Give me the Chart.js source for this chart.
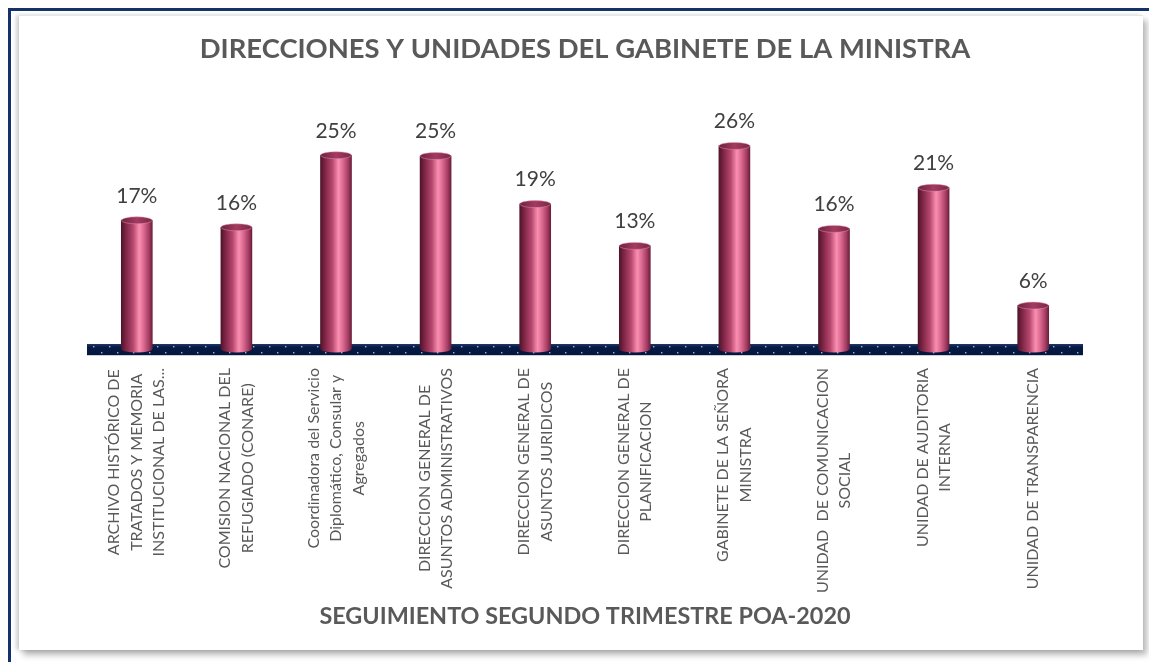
<!DOCTYPE html>
<html>
<head>
<meta charset="utf-8">
<script src="https://cdn.jsdelivr.net/npm/chart.js@4.4.1/dist/chart.umd.min.js"></script>
<style>
html,body{margin:0;padding:0;background:#fff;width:1149px;height:662px;overflow:hidden;}
#frame{position:absolute;left:8px;top:8px;width:1200px;height:700px;border-top:3px solid #14316a;border-left:3px solid #14316a;box-sizing:border-box;}
#panel{position:absolute;left:19px;top:15px;width:1124px;height:634px;background:#fff;border-top:1px solid #e6e6e6;
  box-shadow:4px 5px 6px rgba(0,0,0,0.28), -3px 0 4px rgba(0,0,0,0.18);}
#wrap{position:absolute;left:0;top:0;width:1149px;height:662px;}
</style>
</head>
<body>
<div id="frame"></div>
<div id="panel"></div>
<div id="wrap"><canvas id="c"></canvas></div>
<script>
const categories = [
  ["ARCHIVO HISTÓRICO DE", "TRATADOS Y MEMORIA", "INSTITUCIONAL DE LAS..."],
  ["COMISION NACIONAL DEL", "REFUGIADO (CONARE)"],
  ["Coordinadora del Servicio", "Diplomático, Consular y", "Agregados"],
  ["DIRECCION GENERAL DE", "ASUNTOS ADMINISTRATIVOS"],
  ["DIRECCION GENERAL DE", "ASUNTOS JURIDICOS"],
  ["DIRECCION GENERAL DE", "PLANIFICACION"],
  ["GABINETE DE LA SEÑORA", "MINISTRA"],
  ["UNIDAD  DE COMUNICACION", "SOCIAL"],
  ["UNIDAD DE AUDITORIA", "INTERNA"],
  ["UNIDAD DE TRANSPARENCIA"]
];
const values = [16.6, 15.7, 25.0, 24.9, 18.7, 13.3, 26.2, 15.5, 20.8, 5.6];
const titleText = "DIRECCIONES Y UNIDADES DEL GABINETE DE LA MINISTRA";
const subtitleText = "SEGUIMIENTO SEGUNDO TRIMESTRE POA-2020";

const FONT = "Lato, 'Open Sans', sans-serif";
const BAR_W = 31;
const LINE_H = 22.5;

function barGradient(c) {
  const chart = c.chart;
  const xs = chart.scales && chart.scales.x;
  if (!xs || !chart.chartArea) return '#b23d63';
  const cx = xs.getPixelForValue(c.dataIndex);
  const g = chart.ctx.createLinearGradient(cx - BAR_W / 2, 0, cx + BAR_W / 2, 0);
  g.addColorStop(0, '#4f142b');
  g.addColorStop(0.15, '#7f2545');
  g.addColorStop(0.38, '#b5476e');
  g.addColorStop(0.58, '#fb8fb0');
  g.addColorStop(0.72, '#dc6a92');
  g.addColorStop(0.9, '#a23a5f');
  g.addColorStop(1, '#6a1f3c');
  return g;
}

const cylinderPlugin = {
  id: 'cylinder',
  beforeDatasetsDraw(chart) {
    const ctx = chart.ctx;
    const a = chart.chartArea;
    const base = chart.scales.y.getPixelForValue(0);
    ctx.save();
    const top = base - 5, bot = base + 6;
    const g = ctx.createLinearGradient(0, top, 0, bot);
    g.addColorStop(0, '#1d3566');
    g.addColorStop(0.3, '#061a45');
    g.addColorStop(1, '#04163c');
    ctx.fillStyle = g;
    ctx.fillRect(a.left, top, a.right - a.left, bot - top);
    ctx.fillStyle = '#c9ced8';
    ctx.fillRect(a.left, bot, a.right - a.left, 1);
    ctx.fillStyle = 'rgba(200,210,230,0.85)';
    for (let x = a.left + 6; x < a.right - 2; x += 16) {
      ctx.fillRect(x, top + 2, 1.4, 1.4);
      if (x + 8 < a.right - 2) ctx.fillRect(x + 8, bot - 3, 1.4, 1.4);
    }
    ctx.restore();
  },
  afterDatasetsDraw(chart) {
    const ctx = chart.ctx;
    const meta = chart.getDatasetMeta(0);
    const data = chart.data.datasets[0].data;
    meta.data.forEach((bar, i) => {
      const x = bar.x, top = bar.y, base = bar.base, w = bar.width;
      ctx.save();
      ctx.fillStyle = bar.options.backgroundColor;
      ctx.beginPath();
      ctx.ellipse(x, base, w / 2, 3.5, 0, 0, Math.PI);
      ctx.fill();
      const cg = ctx.createLinearGradient(x - w / 2, 0, x + w / 2, 0);
      cg.addColorStop(0, '#6e2240');
      cg.addColorStop(0.5, '#a33b60');
      cg.addColorStop(1, '#7c2747');
      ctx.fillStyle = cg;
      ctx.beginPath();
      ctx.ellipse(x, top, w / 2, 3.5, 0, 0, Math.PI * 2);
      ctx.fill();
      ctx.strokeStyle = 'rgba(230,150,175,0.6)';
      ctx.lineWidth = 0.8;
      ctx.stroke();
      ctx.fillStyle = '#404040';
      ctx.font = '21px ' + FONT;
      ctx.textAlign = 'center';
      ctx.textBaseline = 'middle';
      ctx.fillText(Math.round(data[i]) + '%', x, top - 24.5);
      ctx.restore();
    });
  },
  afterDraw(chart) {
    const ctx = chart.ctx;
    const xs = chart.scales.x;
    const labelTop = chart.chartArea.bottom + 19;
    ctx.save();
    ctx.font = '16px ' + FONT;
    ctx.fillStyle = '#595959';
    ctx.textAlign = 'center';
    ctx.textBaseline = 'middle';
    chart.data.labels.forEach((lines, i) => {
      const cx = xs.getPixelForTick(i);
      const maxW = Math.max(...lines.map(l => ctx.measureText(l).width));
      const cy = labelTop + maxW / 2;
      lines.forEach((line, j) => {
        const lx = cx + (j - (lines.length - 1) / 2) * LINE_H;
        ctx.save();
        ctx.translate(lx, cy);
        ctx.rotate(-Math.PI / 2);
        ctx.fillText(line, 0, 0);
        ctx.restore();
      });
    });
    ctx.restore();
  }
};

new Chart(document.getElementById('c'), {
  type: 'bar',
  data: {
    labels: categories,
    datasets: [{
      data: values,
      backgroundColor: barGradient,
      borderWidth: 0,
      barThickness: BAR_W
    }]
  },
  options: {
    responsive: true,
    maintainAspectRatio: false,
    animation: false,
    layout: { padding: { left: 87, right: 66, top: 8, bottom: 10 } },
    plugins: {
      legend: { display: false },
      tooltip: { enabled: false },
      title: {
        display: true,
        text: titleText,
        color: '#595959',
        font: { family: FONT, size: 27.4, weight: 'bold' },
        padding: { top: 24.6, bottom: 20 }
      },
      subtitle: {
        display: true,
        position: 'bottom',
        text: subtitleText,
        color: '#595959',
        font: { family: FONT, size: 23.4, weight: 'bold' },
        padding: { top: 10, bottom: 22 }
      }
    },
    scales: {
      x: {
        grid: { display: false },
        border: { display: false },
        ticks: { display: false },
        afterFit(s) { s.height = 242.9; }
      },
      y: {
        display: false,
        min: 0,
        max: 34
      }
    }
  },
  plugins: [cylinderPlugin]
});
</script>
</body>
</html>
